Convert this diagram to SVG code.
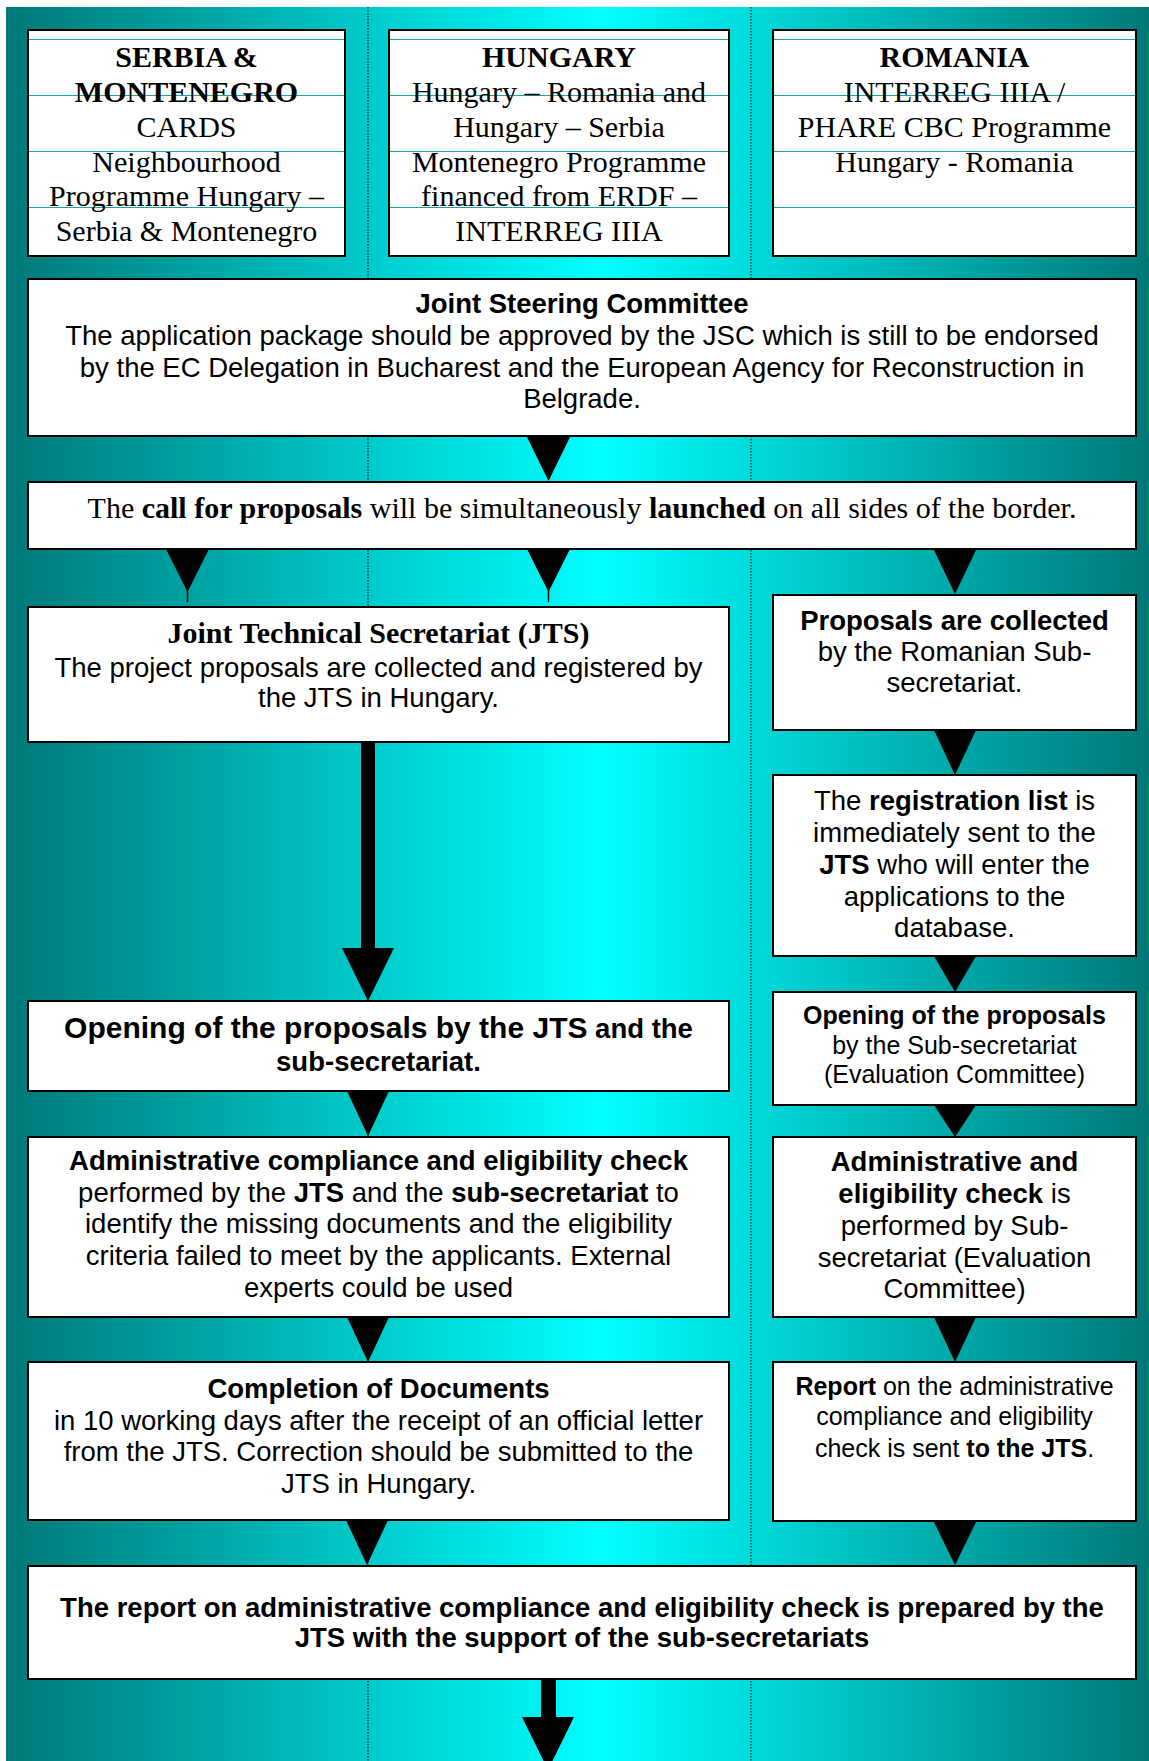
<svg xmlns="http://www.w3.org/2000/svg" width="1149" height="1761" viewBox="0 0 1149 1761">
<defs>
<linearGradient id="bg" x1="6" y1="0" x2="1149" y2="0" gradientUnits="userSpaceOnUse">
<stop offset="0" stop-color="#007878"/>
<stop offset="0.52" stop-color="#00FFFF"/>
<stop offset="1" stop-color="#007878"/>
</linearGradient>
</defs>
<style>
.box{fill:#fff;stroke:#000;stroke-width:2}
.grid{stroke:#1aa5a5;stroke-width:1}
.dot{stroke:#000;stroke-width:1;stroke-dasharray:1.5 1.5}
.s{font-family:"Liberation Sans",Arial,sans-serif;font-size:27.5px;fill:#000;text-anchor:middle}
.t{font-family:"Liberation Serif","Times New Roman",serif;font-size:30px;fill:#000;text-anchor:middle}
.sm{font-size:25px}
.b{font-weight:bold}
.arr{fill:#000}
.stem{stroke:#000;stroke-width:1.5}
</style>
<rect x="0" y="0" width="1149" height="1761" fill="#fff"/>
<rect x="6" y="7" width="1143" height="1754" fill="url(#bg)"/>
<line class="dot" x1="368" y1="7" x2="368" y2="1761"/>
<line class="dot" x1="751" y1="7" x2="751" y2="1761"/>

<g id="connectors">
<polygon class="arr" points="527,437 570,437 548.5,481"/>
<polygon class="arr" points="166,549 209,549 187.5,592"/>
<line class="stem" x1="187.5" y1="590" x2="187.5" y2="602"/>
<polygon class="arr" points="527,549 570,549 548.5,592"/>
<line class="stem" x1="548.5" y1="590" x2="548.5" y2="602"/>
<polygon class="arr" points="933.5,549 976.5,549 955,594"/>
<rect class="arr" x="361" y="742" width="14" height="207"/>
<polygon class="arr" points="342,948 394,948 368,1001"/>
<polygon class="arr" points="347,1091 389,1091 368,1136"/>
<polygon class="arr" points="347,1317 389,1317 368,1362"/>
<polygon class="arr" points="346,1520 388,1520 367,1565"/>
<polygon class="arr" points="934,730 976,730 955,775"/>
<polygon class="arr" points="934,956 976,956 955,992"/>
<polygon class="arr" points="934,1105 976,1105 955,1137"/>
<polygon class="arr" points="934,1317 976,1317 955,1362"/>
<polygon class="arr" points="933.5,1521 976.5,1521 955,1565"/>
<rect class="arr" x="541" y="1679" width="15" height="39"/>
<polygon class="arr" points="522,1717 574,1717 548,1770"/>
</g>

<g id="serbia">
<rect class="box" x="28" y="30" width="317" height="226"/>
<line class="grid" x1="29" y1="39.5" x2="344" y2="39.5"/>
<line class="grid" x1="29" y1="95.5" x2="344" y2="95.5"/>
<line class="grid" x1="29" y1="151.5" x2="344" y2="151.5"/>
<line class="grid" x1="29" y1="207.5" x2="344" y2="207.5"/>
<text class="t b" x="186.5" y="67">SERBIA &amp;</text>
<text class="t b" x="186.5" y="102">MONTENEGRO</text>
<text class="t" x="186.5" y="137">CARDS</text>
<text class="t" x="186.5" y="172">Neighbourhood</text>
<text class="t" x="186.5" y="206">Programme Hungary –</text>
<text class="t" x="186.5" y="241">Serbia &amp; Montenegro</text>
</g>

<g id="hungary">
<rect class="box" x="389" y="30" width="340" height="226"/>
<line class="grid" x1="390" y1="39.5" x2="728" y2="39.5"/>
<line class="grid" x1="390" y1="95.5" x2="728" y2="95.5"/>
<line class="grid" x1="390" y1="151.5" x2="728" y2="151.5"/>
<line class="grid" x1="390" y1="207.5" x2="728" y2="207.5"/>
<text class="t b" x="559" y="67">HUNGARY</text>
<text class="t" x="559" y="102">Hungary – Romania and</text>
<text class="t" x="559" y="137">Hungary – Serbia</text>
<text class="t" x="559" y="172">Montenegro Programme</text>
<text class="t" x="559" y="206">financed from ERDF –</text>
<text class="t" x="559" y="241">INTERREG IIIA</text>
</g>

<g id="romania">
<rect class="box" x="773" y="30" width="363" height="226"/>
<line class="grid" x1="774" y1="39.5" x2="1135" y2="39.5"/>
<line class="grid" x1="774" y1="95.5" x2="1135" y2="95.5"/>
<line class="grid" x1="774" y1="151.5" x2="1135" y2="151.5"/>
<line class="grid" x1="774" y1="207.5" x2="1135" y2="207.5"/>
<text class="t b" x="954.5" y="67">ROMANIA</text>
<text class="t" x="954.5" y="102">INTERREG IIIA /</text>
<text class="t" x="954.5" y="137">PHARE CBC Programme</text>
<text class="t" x="954.5" y="172">Hungary - Romania</text>
</g>

<g id="jsc">
<rect class="box" x="28" y="279" width="1108" height="157"/>
<text class="s b" x="582" y="313">Joint Steering Committee</text>
<text class="s" x="582" y="345">The application package should be approved by the JSC which is still to be endorsed</text>
<text class="s" x="582" y="377">by the EC Delegation in Bucharest and the European Agency for Reconstruction in</text>
<text class="s" x="582" y="408">Belgrade.</text>
</g>

<g id="call">
<rect class="box" x="28" y="482" width="1108" height="67"/>
<text class="t" x="582" y="518">The <tspan class="b">call for proposals</tspan> will be simultaneously <tspan class="b">launched</tspan> on all sides of the border.</text>
</g>

<g id="jts">
<rect class="box" x="28" y="607" width="701" height="135"/>
<text class="t b" x="378.5" y="643">Joint Technical Secretariat (JTS)</text>
<text class="s" x="378.5" y="677">The project proposals are collected and registered by</text>
<text class="s" x="378.5" y="707">the JTS in Hungary.</text>
</g>

<g id="opening-left">
<rect class="box" x="28" y="1001" width="701" height="90"/>
<text class="s b" x="378.5" y="1038"><tspan style="font-size:30px">Opening of the proposals by the JTS</tspan> and the</text>
<text class="s b" x="378.5" y="1071">sub-secretariat.</text>
</g>

<g id="admin-left">
<rect class="box" x="28" y="1137" width="701" height="180"/>
<text class="s b" x="378.5" y="1170">Administrative compliance and eligibility check</text>
<text class="s" x="378.5" y="1202">performed by the <tspan class="b">JTS</tspan> and the <tspan class="b">sub-secretariat</tspan> to</text>
<text class="s" x="378.5" y="1233">identify the missing documents and the eligibility</text>
<text class="s" x="378.5" y="1265">criteria failed to meet by the applicants. External</text>
<text class="s" x="378.5" y="1297">experts could be used</text>
</g>

<g id="completion">
<rect class="box" x="28" y="1362" width="701" height="158"/>
<text class="s b" x="378.5" y="1398">Completion of Documents</text>
<text class="s" x="378.5" y="1430">in 10 working days after the receipt of an official letter</text>
<text class="s" x="378.5" y="1461">from the JTS. Correction should be submitted to the</text>
<text class="s" x="378.5" y="1493">JTS in Hungary.</text>
</g>

<g id="proposals-collected">
<rect class="box" x="773" y="595" width="363" height="135"/>
<text class="s b" x="954.5" y="630">Proposals are collected</text>
<text class="s" x="954.5" y="661">by the Romanian Sub-</text>
<text class="s" x="954.5" y="692">secretariat.</text>
</g>

<g id="registration">
<rect class="box" x="773" y="775" width="363" height="181"/>
<text class="s" x="954.5" y="810">The <tspan class="b">registration list</tspan> is</text>
<text class="s" x="954.5" y="842">immediately sent to the</text>
<text class="s" x="954.5" y="874"><tspan class="b">JTS</tspan> who will enter the</text>
<text class="s" x="954.5" y="906">applications to the</text>
<text class="s" x="954.5" y="937">database.</text>
</g>

<g id="opening-right">
<rect class="box" x="773" y="992" width="363" height="113"/>
<text class="s sm b" x="954.5" y="1024">Opening of the proposals</text>
<text class="s sm" x="954.5" y="1054">by the Sub-secretariat</text>
<text class="s sm" x="954.5" y="1083">(Evaluation Committee)</text>
</g>

<g id="admin-right">
<rect class="box" x="773" y="1137" width="363" height="180"/>
<text class="s b" x="954.5" y="1171">Administrative and</text>
<text class="s" x="954.5" y="1203"><tspan class="b">eligibility check</tspan> is</text>
<text class="s" x="954.5" y="1235">performed by Sub-</text>
<text class="s" x="954.5" y="1267">secretariat (Evaluation</text>
<text class="s" x="954.5" y="1298">Committee)</text>
</g>

<g id="report">
<rect class="box" x="773" y="1362" width="363" height="159"/>
<text class="s sm" x="954.5" y="1395"><tspan class="b">Report</tspan> on the administrative</text>
<text class="s sm" x="954.5" y="1425">compliance and eligibility</text>
<text class="s sm" x="954.5" y="1457">check is sent <tspan class="b">to the JTS</tspan>.</text>
</g>

<g id="final-report">
<rect class="box" x="28" y="1566" width="1108" height="113"/>
<text class="s b" x="582" y="1617">The report on administrative compliance and eligibility check is prepared by the</text>
<text class="s b" x="582" y="1647">JTS with the support of the sub-secretariats</text>
</g>
</svg>
